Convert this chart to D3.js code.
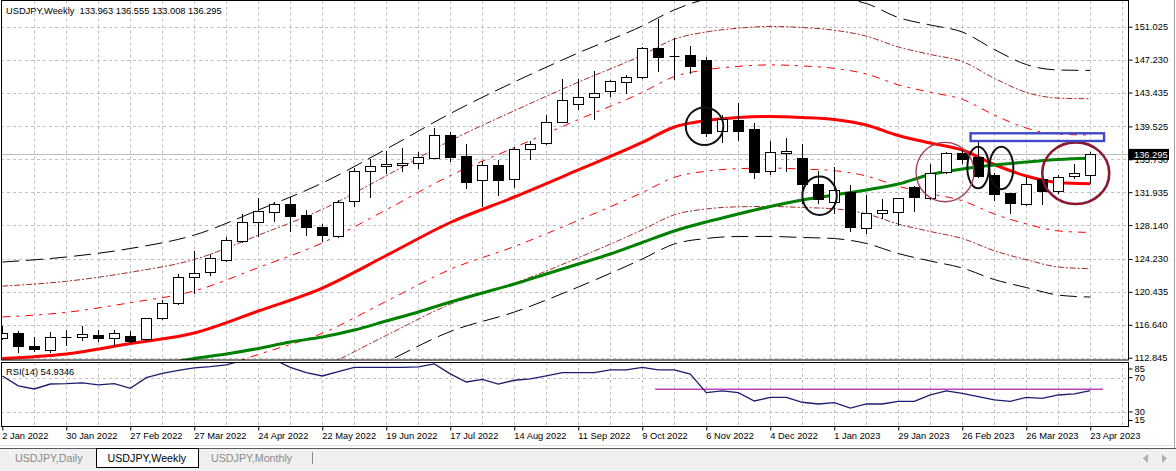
<!DOCTYPE html>
<html><head><meta charset="utf-8">
<script src="https://cdn.jsdelivr.net/npm/d3@7"></script>
<style>
body{margin:0;background:#fff;overflow:hidden}
svg{display:block}
text{font-family:"Liberation Sans",Arial,sans-serif}
</style>
</head><body>
<svg id="c" width="1176" height="471"></svg>
<script>
// ---------------- DATA ----------------
const symbol = "USDJPY,Weekly";
const headerOHLC = [133.963, 136.555, 133.008, 136.295];
const dateLabels = ["2 Jan 2022","30 Jan 2022","27 Feb 2022","27 Mar 2022","24 Apr 2022","22 May 2022","19 Jun 2022","17 Jul 2022","14 Aug 2022","11 Sep 2022","9 Oct 2022","6 Nov 2022","4 Dec 2022","1 Jan 2023","29 Jan 2023","26 Feb 2023","26 Mar 2023","23 Apr 2023"];
const dateLabelBars = [0,4,8,12,16,20,24,28,32,36,40,44,48,52,56,60,64,68];
const priceTicks = [151.025,147.230,143.435,139.525,135.730,131.935,128.140,124.230,120.435,116.640,112.845];
const rsiTicks = [85,70,30,15];
const rsiGrid = [70,30];

const opens = [115.08,115.66,114.19,113.73,115.27,115.27,115.46,115.08,115.35,114.97,
117.39,119.12,122.19,122.76,124.11,126.34,128.53,129.68,130.54,129.27,
127.88,126.92,130.92,134.35,134.92,135.07,135.27,135.91,138.53,136.11,
133.30,135.07,133.42,136.88,137.57,140.07,142.07,142.88,143.61,144.61,
145.19,148.53,147.70,147.76,147.18,139.03,140.26,139.19,134.42,136.42,
135.84,132.88,130.84,131.92,127.77,129.50,129.68,132.50,131.23,134.23,
136.42,135.96,133.92,131.81,130.54,133.46,132.07,133.80,133.963];
const highs = [116.50,115.92,115.20,115.84,116.04,116.50,116.04,116.04,115.92,117.45,
119.50,122.50,125.15,124.77,126.80,129.38,131.23,130.84,131.42,129.88,
128.23,131.04,134.76,135.73,136.69,137.00,136.54,139.30,138.91,137.49,
135.53,135.65,137.18,137.87,140.84,145.00,145.00,145.92,144.90,145.45,
148.72,151.91,149.76,148.80,147.50,140.84,142.20,139.88,137.84,138.15,
137.49,134.42,134.80,132.76,131.61,131.15,131.30,132.60,135.19,136.60,
136.80,137.69,134.19,131.90,133.65,133.60,133.90,135.15,136.555];
const lows = [115.00,113.53,113.65,113.53,114.31,114.88,114.80,114.31,114.69,114.90,
117.30,119.00,120.34,122.38,124.00,126.20,126.88,128.65,127.49,127.00,
126.34,126.80,130.34,131.42,134.19,134.42,134.76,135.85,135.57,132.45,
130.34,131.61,132.50,135.76,137.45,140.00,141.53,140.35,143.07,143.41,
145.10,145.95,145.00,145.65,138.42,137.76,137.95,133.61,134.03,134.42,
130.73,130.73,129.50,127.49,127.19,129.00,128.15,129.80,131.10,134.10,
135.27,133.70,131.00,129.57,130.45,130.54,131.80,133.54,133.008];
const closes = [115.66,114.23,113.81,115.27,115.22,115.54,115.08,115.66,114.80,117.39,
119.12,122.12,122.58,124.31,126.42,128.46,129.77,130.54,129.22,127.95,
127.00,130.77,134.38,134.96,135.15,135.30,136.03,138.50,136.03,133.15,
135.04,133.34,136.88,137.49,140.07,142.57,142.88,143.34,144.76,145.26,
148.60,147.50,147.60,146.53,138.73,140.34,139.03,134.30,136.54,136.69,
132.84,131.12,132.19,127.88,129.57,129.88,131.23,131.42,134.10,136.42,
135.76,133.83,131.73,130.72,132.84,132.11,133.73,134.10,136.295];

const rsiValues = [72,60.5,56.8,62.6,63,64,61.6,63,57.6,70,
75,78.5,81.5,83,85,90,92,91,82,75.8,
72,77,82,82,82,82,82.7,86,74.5,65,
68,62.6,67,68.5,72,75.8,75.8,75.8,79,79,
82,79,79,74.3,52.5,54.5,52.5,42.8,47,47,
41.3,39.3,40.8,34.6,39.3,39.3,42.4,42.4,49.8,54.5,
51.8,47.9,44,42.4,47,45.8,49.8,51,54.9346];
const rsiLevelLine = {from:40.8, to:68.8, value:56.5};

// moving average + band readings (bar index -> price)
const bandBars = [0,4,8,12,16,20,24,28,32,36,40,42,44,46,48,50,52,54,56,58,60,62,64,66,68];
const maRed   = [112.75,113.27,114.48,115.69,118.23,120.88,124.63,128.44,131.38,134.50,137.67,139.46,140.21,140.55,140.67,140.55,140.32,139.69,138.47,137.61,136.80,135.13,133.80,133.05,132.91];
const outerUp = [123.88,124.46,125.44,126.99,129.88,132.99,136.91,141.01,144.65,148.00,151.11,152.96,154.20,154.60,154.80,154.70,154.40,153.70,152.08,151.22,150.41,148.40,146.66,146.03,145.98];
const outerLo = [101.62,102.08,103.52,104.39,106.58,108.77,112.35,115.87,118.11,121.00,124.23,125.96,126.60,126.82,126.83,126.71,126.59,126.02,124.86,124.00,123.19,121.86,120.94,120.07,119.84];
const midUp   = [121.10,121.66,122.70,124.17,126.97,129.96,133.84,137.87,141.33,144.63,147.75,149.59,150.42,150.85,151.05,150.93,150.62,149.94,148.68,147.82,147.01,145.08,143.45,142.79,142.71];
const midLo   = [104.40,104.88,106.26,107.21,109.49,111.80,115.42,119.01,121.43,124.37,127.59,129.33,130.00,130.25,130.29,130.17,130.02,129.44,128.26,127.40,126.59,125.18,124.15,123.31,123.11];
const innerUp = [117.54,118.08,119.19,120.55,123.24,126.09,129.91,133.85,137.09,140.31,143.45,145.27,146.06,146.45,146.62,146.50,146.22,145.57,144.32,143.46,142.65,140.84,139.33,138.63,138.53];
const innerLo = [107.96,108.46,109.77,110.83,113.22,115.67,119.35,123.03,125.67,128.69,131.89,133.65,134.36,134.65,134.72,134.60,134.42,133.81,132.62,131.76,130.95,129.42,128.27,127.47,127.29];

const greenBars = [8,10,12,14,16,18,20,22,24,26,28,30,32,34,36,38,40,42,44,46,48,50,52,54,56,58,60,62,64,66,68];
const maGreen = [111.65,112.12,112.75,113.27,113.91,114.66,115.23,116.04,117.08,118.12,119.27,120.31,121.35,122.50,123.65,124.81,126.13,127.46,128.50,129.42,130.29,131.04,131.61,132.19,132.88,133.98,134.61,135.07,135.42,135.71,135.85];

// hand-drawn annotations (bar index, price)
const blackMarks = [{i:43.89,p:139.55},{i:51.08,p:131.52},{i:60.99,p:134.78},{i:62.44,p:134.73}];
const maroonThin = {i:58.92,p:134.26};
const maroonThick = {i:67.09,p:134.13};
const blueBox = {i0:60.52,i1:68.86,pTop:138.73,pBot:137.84};
const tabs = ["USDJPY,Daily","USDJPY,Weekly","USDJPY,Monthly"];

// ---------------- LAYOUT ----------------
const svg = d3.select('#c');
const L = 1, R = 1128, T = 0.5, MB = 360, RT = 362, RB = 426;
const x = d3.scaleLinear().domain([0,68]).range([2.3,1090.3]);
const y = d3.scaleLinear().domain([112.845,151.025]).range([357.7,26.7]);
const ry = d3.scaleLinear().domain([13.6,88.3]).range([426,362]);
const FS = 9.3;
const crisp = v => Math.round(v) + 0.5;

const defs = svg.append('defs');
defs.append('clipPath').attr('id','cm').append('rect').attr('x',L).attr('y',T).attr('width',R-L).attr('height',MB-T);
defs.append('clipPath').attr('id','cr').append('rect').attr('x',L).attr('y',RT).attr('width',R-L).attr('height',RB-RT);

// grid
const grid = svg.append('g').attr('stroke','#c0c0c0').attr('stroke-width',1).attr('stroke-dasharray','3,3');
const vIdx = d3.range(2,71,2);
vIdx.forEach(i=>{
  grid.append('line').attr('x1',crisp(x(i))).attr('x2',crisp(x(i))).attr('y1',T).attr('y2',MB);
  grid.append('line').attr('x1',crisp(x(i))).attr('x2',crisp(x(i))).attr('y1',RT).attr('y2',RB);
});
priceTicks.forEach(p=>{
  grid.append('line').attr('x1',L).attr('x2',R).attr('y1',crisp(y(p))).attr('y2',crisp(y(p)));
});
rsiGrid.forEach(v=>{
  grid.append('line').attr('x1',L).attr('x2',R).attr('y1',crisp(ry(v))).attr('y2',crisp(ry(v)));
});

// main plot content
const main = svg.append('g').attr('clip-path','url(#cm)');
const lastClose = closes[closes.length-1];
main.append('line').attr('x1',L).attr('x2',R).attr('y1',crisp(y(lastClose))).attr('y2',crisp(y(lastClose)))
  .attr('stroke','#bcbcbc').attr('stroke-width',1);

const bandLine = d3.line().x((d,k)=>x(bandBars[k])).y(d=>y(d)).curve(d3.curveMonotoneX);
const bands = [
  {data:outerUp,c:'#000000',dash:'17,7'},{data:outerLo,c:'#000000',dash:'17,7'},
  {data:midUp,c:'#a52a2a',dash:'6,2,2,2'},{data:midLo,c:'#a52a2a',dash:'6,2,2,2'},
  {data:innerUp,c:'#ff0000',dash:'8,6,3,6'},{data:innerLo,c:'#ff0000',dash:'8,6,3,6'}
];
bands.forEach(b=>{
  main.append('path').attr('d',bandLine(b.data)).attr('fill','none').attr('stroke',b.c)
    .attr('stroke-width',1).attr('stroke-dasharray',b.dash);
});
main.append('path').attr('d',bandLine(maRed)).attr('fill','none').attr('stroke','#ff0000').attr('stroke-width',3);
const gLine = d3.line().x((d,k)=>x(greenBars[k])).y(d=>y(d)).curve(d3.curveMonotoneX);
main.append('path').attr('d',gLine(maGreen)).attr('fill','none').attr('stroke','#008000').attr('stroke-width',3);

// candles
const cg = main.append('g');
opens.forEach((o,i)=>{
  const c = closes[i];
  const cx = crisp(x(i));
  cg.append('line').attr('x1',cx).attr('x2',cx).attr('y1',Math.round(y(highs[i]))).attr('y2',Math.round(y(lows[i]))+1)
    .attr('stroke','#000').attr('stroke-width',1);
  const top = crisp(y(Math.max(o,c))), bot = crisp(y(Math.min(o,c)));
  if (bot - top < 1) {
    cg.append('line').attr('x1',cx-5).attr('x2',cx+5).attr('y1',top).attr('y2',top).attr('stroke','#000').attr('stroke-width',1);
  } else {
    cg.append('rect').attr('x',cx-5).attr('y',top).attr('width',10).attr('height',bot-top)
      .attr('fill', c < o ? '#000' : '#fff').attr('stroke','#000').attr('stroke-width',1);
  }
});

// annotations
const ann = svg.append('g').attr('fill','none');
const blackR = [[18.8,18.8],[17.2,19.2],[10.8,20.8],[12,21.3]];
blackMarks.forEach((m,k)=>{
  ann.append('ellipse').attr('cx',x(m.i)).attr('cy',y(m.p)).attr('rx',blackR[k][0]).attr('ry',blackR[k][1])
    .attr('stroke','#111').attr('stroke-width',2);
});
ann.append('ellipse').attr('cx',x(maroonThin.i)).attr('cy',y(maroonThin.p)).attr('rx',29).attr('ry',29.7)
  .attr('stroke','#a33a55').attr('stroke-width',1.3);
ann.append('ellipse').attr('cx',x(maroonThick.i)).attr('cy',y(maroonThick.p)).attr('rx',33.5).attr('ry',30.8)
  .attr('stroke','#8a1830').attr('stroke-width',2.6);
ann.append('rect').attr('x',x(blueBox.i0)).attr('y',y(blueBox.pTop)).attr('width',x(blueBox.i1)-x(blueBox.i0))
  .attr('height',y(blueBox.pBot)-y(blueBox.pTop)).attr('stroke','#4048c8').attr('stroke-width',2.4);

// RSI
const rsiG = svg.append('g').attr('clip-path','url(#cr)');
rsiG.append('line').attr('x1',x(rsiLevelLine.from)).attr('x2',x(rsiLevelLine.to))
  .attr('y1',ry(rsiLevelLine.value)).attr('y2',ry(rsiLevelLine.value)).attr('stroke','#bb44bb').attr('stroke-width',1.4);
rsiG.append('path').attr('d',d3.line().x((d,i)=>x(i)).y(d=>ry(d))(rsiValues))
  .attr('fill','none').attr('stroke','#1c1c6e').attr('stroke-width',1.3);
svg.append('text').attr('x',6).attr('y',375).attr('font-size',FS).attr('fill','#000')
  .text(`RSI(14) ${rsiValues[rsiValues.length-1].toFixed(4)}`);

// panel borders
svg.append('rect').attr('x',1.5).attr('y',0.5).attr('width',R-1).attr('height',MB-0.5).attr('fill','none').attr('stroke','#000');
svg.append('rect').attr('x',1.5).attr('y',RT+0.5).attr('width',R-1).attr('height',RB-RT).attr('fill','none').attr('stroke','#000');

// price axis
const pAxis = svg.append('g').attr('transform',`translate(${R+0.5},0)`)
  .call(d3.axisRight(y).tickValues(priceTicks).tickSize(4).tickPadding(2).tickFormat(d=>d.toFixed(3)));
pAxis.select('.domain').remove();
pAxis.selectAll('text').attr('font-size',FS).attr('font-family','"Liberation Sans",Arial,sans-serif').attr('fill','#000');
pAxis.selectAll('line').attr('stroke','#000');

// current price label
const cy = y(lastClose);
svg.append('rect').attr('x',R+1).attr('y',cy-5.5).attr('width',40).attr('height',11).attr('fill','#000');
svg.append('text').attr('x',R+6).attr('y',cy).attr('dy','0.34em').attr('font-size',FS).attr('fill','#fff').text(lastClose.toFixed(3));

// RSI axis
const rAxis = svg.append('g').attr('transform',`translate(${R+0.5},0)`)
  .call(d3.axisRight(ry).tickValues(rsiTicks).tickSize(4).tickPadding(2));
rAxis.select('.domain').remove();
rAxis.selectAll('.tick').attr('transform',d=>`translate(0,${Math.min(420.5,Math.max(369,ry(d)))})`);
rAxis.selectAll('text').attr('font-size',FS).attr('font-family','"Liberation Sans",Arial,sans-serif').attr('fill','#000');
rAxis.selectAll('line').attr('stroke','#000');

// date axis
const dAxis = svg.append('g').attr('transform',`translate(0,${RB+0.5})`)
  .call(d3.axisBottom(x).tickValues(dateLabelBars).tickSize(4).tickFormat((d,k)=>dateLabels[k]));
dAxis.select('.domain').remove();
dAxis.selectAll('text').attr('font-size',FS).attr('font-family','"Liberation Sans",Arial,sans-serif')
  .attr('fill','#000').attr('text-anchor','start').attr('y',12.5).attr('dy',0).attr('dx',-0.5);
dAxis.selectAll('line').attr('stroke','#000');

// header
svg.append('text').attr('x',6).attr('y',14).attr('font-size',FS).attr('fill','#000').style('white-space','pre')
  .text(`${symbol}  ${headerOHLC.map(v=>v.toFixed(3)).join(' ')}`);

// window frame + tab strip
svg.append('line').attr('x1',1174.5).attr('x2',1174.5).attr('y1',0).attr('y2',448).attr('stroke','#a0a0a0');
svg.append('line').attr('x1',0).attr('x2',1176).attr('y1',445.5).attr('y2',445.5).attr('stroke','#e0e0e0');
svg.append('rect').attr('x',0).attr('y',449).attr('width',1176).attr('height',22).attr('fill','#f0f0f0');
svg.append('line').attr('x1',0).attr('x2',1176).attr('y1',448.5).attr('y2',448.5).attr('stroke','#5a5a5a');
svg.append('rect').attr('x',96.5).attr('y',448.5).attr('width',102).attr('height',19).attr('fill','#fff').attr('stroke','#000');
const tabX = [15,107.5,211];
tabs.forEach((t,k)=>{
  svg.append('text').attr('x',tabX[k]).attr('y',462).attr('font-size',10.7)
    .attr('fill', k===1 ? '#000' : '#8a8a8a').text(t);
});
svg.append('line').attr('x1',312.5).attr('x2',312.5).attr('y1',452).attr('y2',464).attr('stroke','#8a8a8a');
svg.append('path').attr('d','M1148,454 L1143,458.5 L1148,463 Z').attr('fill','#b0b0b0');
svg.append('path').attr('d','M1162,454 L1167,458.5 L1162,463 Z').attr('fill','#b0b0b0');
</script>
</body></html>
